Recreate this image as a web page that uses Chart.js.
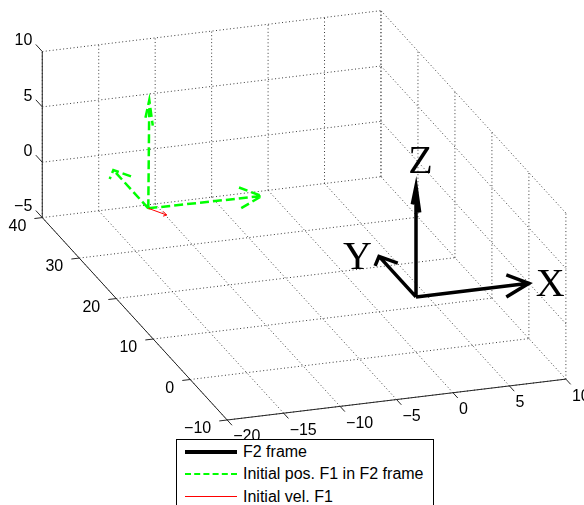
<!DOCTYPE html>
<html lang="en">
<head>
<meta charset="UTF-8">
<title>F2 frame / F1 initial state</title>
<script src="https://cdn.jsdelivr.net/npm/chart.js"></script>
<style>
  body { margin: 0; background: #fff; overflow: hidden; }
  .wrap { position: relative; width: 584px; height: 505px; }
  .legend {
    position: absolute; left: 176px; top: 439px; width: 256px; height: 80px;
    border: 1px solid #000; background: #fff;
    font-family: 'Liberation Sans', Arial, sans-serif; font-size: 16px; color: #000;
  }
  .legend .sample { position: absolute; left: 8px; width: 52px; height: 0; }
  .legend .txt { position: absolute; left: 66px; height: 22px; line-height: 22px; white-space: nowrap; }
</style>
</head>
<body>
<div class="wrap">
  <canvas id="frames3d"></canvas>
  <div class="legend" id="legend"></div>
</div>
<script>
// axis ticks
const xTicks = [-20, -15, -10, -5, 0, 5, 10];
const yTicks = [-10, 0, 10, 20, 30, 40];
const zTicks = [-5, 0, 5, 10];

const seriesNames = ['F2 frame', 'Initial pos. F1 in F2 frame', 'Initial vel. F1'];

// F2 frame (black)
const f2Origin = [0, 0, 0];
const f2Axes = [[10, 0, 0], [0, 10, 0], [0, 0, 10]];
const f2AxisNames = ['X', 'Y', 'Z'];

// F1 initial position (green) and velocity (red)
const f1Origin = [-14.9, 26.9, 0];
const f1Axes = [[9.94, -0.31, 0], [0, 9.45, 0], [0, -0.27, 9.88]];
const f1Vel = [0.98, -1.99, 0];

// ---- view (orthographic projection of the 3-D box onto the page) ----
const view = { ox: 416, oy: 296.9, ex: [11.29, -1.363], ey: [-3.698, -4.048], ez: [0, -11.07] };
const letterPos = [[10.6, 0, -0.3], [-3, 10.55, 0], [-0.68, 0, 12.24]];

function proj(p) {
  return {
    x: view.ox + p[0] * view.ex[0] + p[1] * view.ey[0] + p[2] * view.ez[0],
    y: view.oy + p[0] * view.ex[1] + p[1] * view.ey[1] + p[2] * view.ez[1]
  };
}
const add = (a, b) => a.map((v, i) => v + b[i]);
const mul = (a, k) => a.map(v => v * k);
const GAP = { x: null, y: null };

const xr = [xTicks[0], xTicks[xTicks.length - 1]];
const yr = [yTicks[0], yTicks[yTicks.length - 1]];
const zr = [zTicks[0], zTicks[zTicks.length - 1]];

// grid on the three back planes
const gridPts = [];
function seg(list, a, b) { list.push(proj(a), proj(b), GAP); }
xTicks.forEach(x => {
  seg(gridPts, [x, yr[0], zr[0]], [x, yr[1], zr[0]]);
  seg(gridPts, [x, yr[1], zr[0]], [x, yr[1], zr[1]]);
});
yTicks.forEach(y => {
  seg(gridPts, [xr[0], y, zr[0]], [xr[1], y, zr[0]]);
  seg(gridPts, [xr[1], y, zr[0]], [xr[1], y, zr[1]]);
});
zTicks.slice(1).forEach(z => {
  seg(gridPts, [xr[0], yr[1], z], [xr[1], yr[1], z]);
  seg(gridPts, [xr[1], yr[0], z], [xr[1], yr[1], z]);
});

// axis lines + tick marks
const axisPts = [];
seg(axisPts, [xr[0], yr[0], zr[0]], [xr[1], yr[0], zr[0]]);
seg(axisPts, [xr[0], yr[0], zr[0]], [xr[0], yr[1], zr[0]]);
seg(axisPts, [xr[0], yr[1], zr[0]], [xr[0], yr[1], zr[1]]);
xTicks.forEach(x => seg(axisPts, [x, yr[0], zr[0]], [x, yr[0] - 1.3, zr[0]]));
yTicks.forEach(y => seg(axisPts, [xr[0], y, zr[0]], [xr[0] - 0.7, y, zr[0]]));
zTicks.forEach(z => seg(axisPts, [xr[0], yr[1], z], [xr[0], yr[1] + 1.75, z]));

// arrow: shaft plus two head strokes spread along axis k
function arrow(list, o, v, k) {
  const tip = add(o, v);
  const len = Math.hypot(v[0], v[1], v[2]);
  const base = add(o, mul(v, 0.8));
  const off = [0, 0, 0];
  off[k] = 0.1 * len;
  list.push(proj(o), proj(tip), GAP,
            proj(add(base, off)), proj(tip), proj(add(base, mul(off, -1))), GAP);
}
const f2Pts = [], f1Pts = [], velPts = [];
f2Axes.forEach((v, i) => arrow(f2Pts, f2Origin, v, (i + 2) % 3));
f1Axes.forEach((v, i) => arrow(f1Pts, f1Origin, v, (i + 2) % 3));
arrow(velPts, f1Origin, f1Vel, 2);

const fmt = n => (n < 0 ? '\u2212' + Math.abs(n) : String(n));

const textPlugin = {
  id: 'axisText',
  afterDatasetsDraw(chart) {
    const ctx = chart.ctx, sx = chart.scales.x, sy = chart.scales.y;
    const at = p => { const q = proj(p); return [sx.getPixelForValue(q.x), sy.getPixelForValue(q.y)]; };
    ctx.save();
    ctx.fillStyle = '#000';
    ctx.font = '16px "Liberation Sans", Arial, sans-serif';
    ctx.textBaseline = 'middle';
    ctx.textAlign = 'right';
    zTicks.forEach(z => { const [px, py] = at([xr[0], yr[1], z]); ctx.fillText(fmt(z), px - 10, py - 10.5); });
    yTicks.forEach(y => { const [px, py] = at([xr[0], y, zr[0]]); ctx.fillText(fmt(y), px - 16, py + 9); });
    ctx.textAlign = 'left';
    xTicks.forEach(x => { const [px, py] = at([x, yr[0], zr[0]]); ctx.fillText(fmt(x), px + 6, py + 17); });
    ctx.font = '40px "Liberation Serif", "Times New Roman", serif';
    f2AxisNames.forEach((n, i) => { const [px, py] = at(letterPos[i]); ctx.fillText(n, px, py); });
    ctx.restore();
  }
};

const line = (data, color, width, dash, order) => ({
  data, showLine: true, borderColor: color, borderWidth: width, borderDash: dash,
  pointRadius: 0, spanGaps: false, order
});

new Chart(document.getElementById('frames3d'), {
  type: 'scatter',
  data: {
    datasets: [
      line(f2Pts, '#000000', 3.5, [], 0),
      line(velPts, '#ff0000', 1, [], 1),
      line(f1Pts, '#00ff00', 2.5, [9, 4], 2),
      line(axisPts, '#262626', 1, [], 4),
      line(gridPts, '#3a3a3a', 1, [1, 2.5], 5)
    ]
  },
  options: {
    responsive: true,
    maintainAspectRatio: false,
    animation: false,
    events: [],
    layout: { padding: 0 },
    scales: {
      x: { type: 'linear', display: false, min: 0, max: 584 },
      y: { type: 'linear', display: false, min: 0, max: 505, reverse: true }
    },
    plugins: { legend: { display: false }, tooltip: { enabled: false } }
  },
  plugins: [textPlugin]
});

// legend
const legendStyles = [
  { color: '#000', width: 4, dash: 'solid' },
  { color: '#00ff00', width: 2, dash: 'dashed' },
  { color: '#ff0000', width: 1, dash: 'solid' }
];
const legendEl = document.getElementById('legend');
seriesNames.forEach((name, i) => {
  const cy = 12 + i * 22.3;
  const s = legendStyles[i];
  const sample = document.createElement('div');
  sample.className = 'sample';
  sample.style.top = (cy - s.width / 2) + 'px';
  sample.style.borderTop = s.width + 'px ' + s.dash + ' ' + s.color;
  const txt = document.createElement('div');
  txt.className = 'txt';
  txt.style.top = (cy - 11) + 'px';
  txt.textContent = name;
  legendEl.appendChild(sample);
  legendEl.appendChild(txt);
});
</script>
<style>.wrap canvas { width: 584px !important; height: 505px !important; }</style>
</body>
</html>
